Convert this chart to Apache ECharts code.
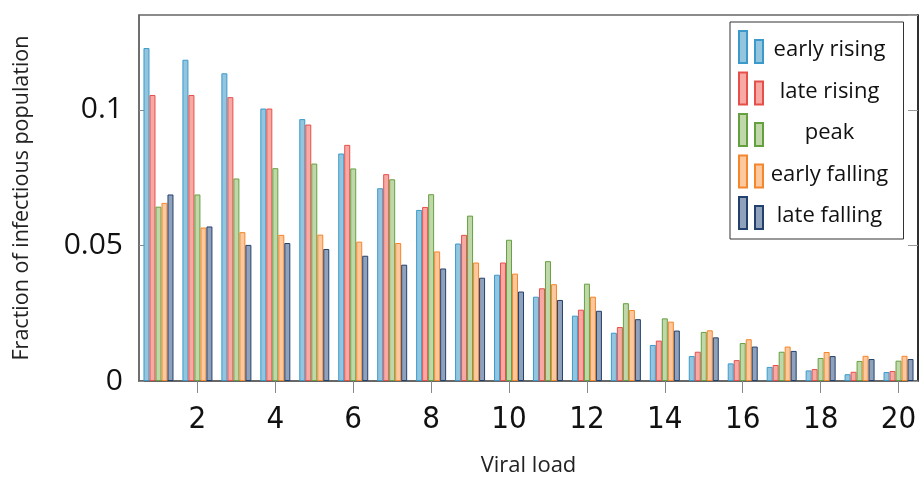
<!DOCTYPE html>
<html>
<head>
<meta charset="utf-8">
<script src="https://cdn.jsdelivr.net/npm/echarts@6/dist/echarts.min.js"></script>
<style>html,body{margin:0;padding:0;background:#fff;}#c{width:920px;height:477px;}</style>
</head>
<body>
<div id="c"></div>
<script>
const categories = ["1","2","3","4","5","6","7","8","9","10","11","12","13","14","15","16","17","18","19","20"];
const seriesNames = ["early rising","late rising","peak","early falling","late falling"];
const earlyRising  = [0.1228,0.1185,0.1135,0.1005,0.0966,0.0839,0.0711,0.0631,0.0507,0.0392,0.0311,0.0241,0.0178,0.0133,0.0092,0.0065,0.0052,0.0039,0.0025,0.0033];
const lateRising   = [0.1055,0.1055,0.1047,0.1005,0.0946,0.0871,0.0763,0.0642,0.0539,0.0437,0.0342,0.0263,0.0199,0.0149,0.0108,0.0077,0.0059,0.0044,0.0034,0.0037];
const peak         = [0.0643,0.0688,0.0747,0.0785,0.0802,0.0784,0.0744,0.0689,0.0610,0.0521,0.0442,0.0359,0.0287,0.0231,0.0181,0.0140,0.0108,0.0085,0.0074,0.0075];
const earlyFalling = [0.0657,0.0566,0.0549,0.0539,0.0540,0.0514,0.0509,0.0478,0.0437,0.0396,0.0357,0.0311,0.0262,0.0219,0.0187,0.0154,0.0127,0.0107,0.0093,0.0093];
const lateFalling  = [0.0688,0.0570,0.0502,0.0509,0.0487,0.0462,0.0429,0.0415,0.0381,0.0330,0.0299,0.0259,0.0228,0.0186,0.0161,0.0127,0.0111,0.0092,0.0081,0.0081];
const yMin = 0, yMax = 0.135, yInterval = 0.05;

const fills   = ['#93c6de','#f8a9a4','#c0d7a9','#fdc89e','#8fa1bb'];
const borders = ['#3b9acb','#e5504b','#65a040','#f4862c','#23416d'];
const values = [earlyRising, lateRising, peak, earlyFalling, lateFalling];

const chart = echarts.init(document.getElementById('c'), null, {renderer:'canvas'});
const everyOther = (idx) => (idx + 1) % 2 === 0;

chart.setOption({
  animation: false,
  backgroundColor: '#fff',
  grid: {left: 139, right: 2, top: 15, bottom: 96, show: true, borderColor: '#666', borderWidth: 1.5,
         outerBoundsMode: 'none', containLabel: false},
  legend: {
    orient: 'vertical', left: 730, top: 22,
    padding: [8, 13, 9, 8],
    itemWidth: 25, itemHeight: 32, itemGap: 7.5,
    backgroundColor: '#fff', borderColor: '#333', borderWidth: 1,
    icon: 'path://M0,0H8V32H0Z M16,9H24V32H16Z',
    data: seriesNames,
    formatter: (n) => '{a|' + n + '}',
    textStyle: {
      fontFamily: 'Open Sans', fontSize: 22, color: '#111',
      rich: {a: {width: 122, lineHeight: 26, padding: [6, 0, 0, 0], align: 'center', fontFamily: 'Open Sans', fontSize: 22, color: '#111'}}
    }
  },
  xAxis: [{
    type: 'category', data: categories, position: 'bottom',
    name: 'Viral load', nameLocation: 'middle', nameGap: 74,
    nameTextStyle: {fontFamily: 'Open Sans', fontSize: 22, color: '#222'},
    axisLine: {show: true, lineStyle: {color: '#666', width: 1.5}},
    axisTick: {show: true, alignWithLabel: true, interval: everyOther, inside: false, length: 12, lineStyle: {color: '#888', width: 1}},
    axisLabel: {interval: everyOther, margin: 23, fontFamily: 'Liberation Sans Narrow, DejaVu Sans Condensed, sans-serif', fontSize: 31, color: '#111'},
    splitLine: {show: false}
  },{
    type: 'category', data: categories, position: 'top',
    axisLine: {show: true, lineStyle: {color: '#666', width: 1.5}},
    axisTick: {show: true, alignWithLabel: true, interval: everyOther, inside: false, length: 12, lineStyle: {color: '#888', width: 1}},
    axisLabel: {show: false},
    splitLine: {show: false}
  }],
  yAxis: [{
    type: 'value', min: yMin, max: yMax, interval: yInterval, position: 'left',
    name: 'Fraction of infectious population', nameLocation: 'middle', nameGap: 106, nameRotate: 90,
    nameTextStyle: {fontFamily: 'Open Sans', fontSize: 21.5, color: '#222'},
    axisLine: {show: true, lineStyle: {color: '#666', width: 1.5}},
    axisTick: {show: true, inside: true, length: 5, lineStyle: {color: '#888'}},
    axisLabel: {margin: 16, showMaxLabel: false, fontFamily: 'Open Sans', fontSize: 30, color: '#111',
      formatter: (v) => String(Math.round(v * 1000) / 1000)},
    splitLine: {show: false}
  },{
    type: 'value', min: yMin, max: yMax, interval: yInterval, position: 'right',
    axisLine: {show: true, lineStyle: {color: '#111', width: 1.5}},
    axisTick: {show: true, inside: true, length: 10, lineStyle: {color: '#999'}},
    axisLabel: {show: false},
    splitLine: {show: false}
  }],
  series: seriesNames.map((n, i) => ({
    name: n, type: 'bar', xAxisIndex: 0, yAxisIndex: 0,
    data: values[i],
    barWidth: 6, barGap: '0%',
    itemStyle: {color: fills[i], borderColor: borders[i], borderWidth: 1}
  }))
});
</script>
</body>
</html>
